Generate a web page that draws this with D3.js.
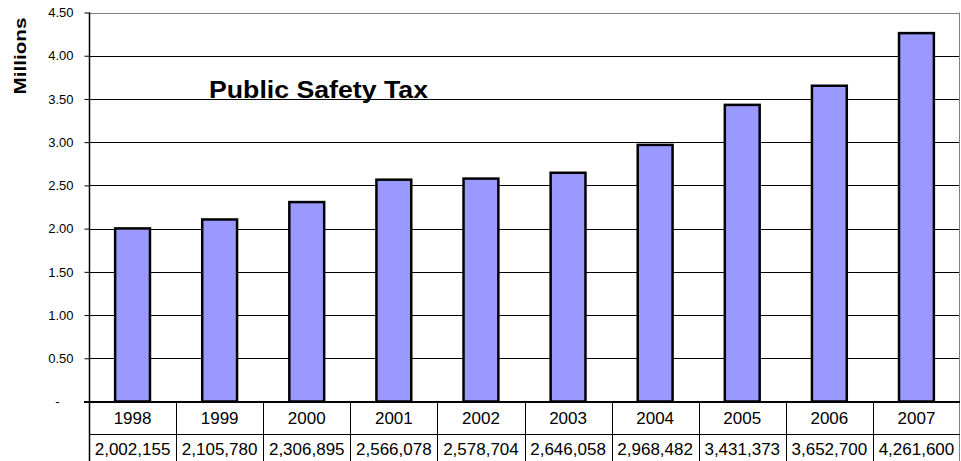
<!DOCTYPE html>
<html>
<head>
<meta charset="utf-8">
<script src="https://cdn.jsdelivr.net/npm/d3@7"></script>
<style>
  html, body { margin: 0; padding: 0; background: #fff; }
  svg { display: block; font-family: Arial, "Liberation Sans", sans-serif; }
</style>
</head>
<body>
<svg id="chart" width="961" height="461"></svg>
<script>
// Public Safety Tax collections by year
const years = ["1998", "1999", "2000", "2001", "2002", "2003", "2004", "2005", "2006", "2007"];
const amounts = [2002155, 2105780, 2306895, 2566078, 2578704, 2646058, 2968482, 3431373, 3652700, 4261600];
const tickValues = [0, 0.5, 1.0, 1.5, 2.0, 2.5, 3.0, 3.5, 4.0, 4.5];
const tickLabels = ["-", "0.50", "1.00", "1.50", "2.00", "2.50", "3.00", "3.50", "4.00", "4.50"];

const svg = d3.select("#chart");
const plotLeft = 89, plotRight = 960, plotTop = 12.5, plotBottom = 401.5;
const rowDivider = 434, tableBottom = 470;

const x = d3.scaleBand().domain(years).range([plotLeft, plotRight]).padding(0);
const y = d3.scaleLinear().domain([0, 4.5]).range([plotBottom, plotTop]);

// horizontal gridlines
svg.append("g")
  .selectAll("line")
  .data(tickValues.filter(v => v > 0 && v < 4.5))
  .join("line")
  .attr("x1", plotLeft).attr("x2", plotRight)
  .attr("y1", d => Math.round(y(d)) + 0.5).attr("y2", d => Math.round(y(d)) + 0.5)
  .attr("stroke", "#000").attr("stroke-width", 1);

// plot frame: grey top and right edges
svg.append("line")
  .attr("x1", plotLeft).attr("x2", plotRight)
  .attr("y1", Math.round(y(4.5)) + 0.5).attr("y2", Math.round(y(4.5)) + 0.5)
  .attr("stroke", "#808080").attr("stroke-width", 1);
svg.append("line")
  .attr("x1", plotRight - 0.5).attr("x2", plotRight - 0.5)
  .attr("y1", y(4.5)).attr("y2", tableBottom)
  .attr("stroke", "#808080").attr("stroke-width", 1);

// y axis with custom labels
const yAxis = d3.axisLeft(y)
  .tickValues(tickValues)
  .tickSize(5)
  .tickPadding(11)
  .tickFormat((d, i) => tickLabels[i]);
const gy = svg.append("g")
  .attr("transform", `translate(${plotLeft + 0.5},0)`)
  .call(yAxis);
gy.select(".domain").remove();
gy.selectAll(".tick line").attr("stroke", "#000");
gy.selectAll(".tick text")
  .attr("fill", "#000")
  .attr("dx", d => d === 0 ? -14 : 0)
  .style("font-size", "13px")
  .style("font-family", "Arial, 'Liberation Sans', sans-serif");

// bars
const barW = x.bandwidth() * 0.4;
svg.append("g")
  .selectAll("rect")
  .data(amounts)
  .join("rect")
  .attr("x", (d, i) => x(years[i]) + (x.bandwidth() - barW) / 2)
  .attr("y", d => y(d / 1e6))
  .attr("width", barW)
  .attr("height", d => plotBottom - y(d / 1e6))
  .attr("fill", "#9999FF")
  .attr("stroke", "#000")
  .attr("stroke-width", 2.5);

// left axis line, running down through the data table
svg.append("line")
  .attr("x1", plotLeft + 0.5).attr("x2", plotLeft + 0.5)
  .attr("y1", plotTop).attr("y2", tableBottom)
  .attr("stroke", "#000").attr("stroke-width", 1.5);

// base line
svg.append("line")
  .attr("x1", plotLeft - 5).attr("x2", plotRight)
  .attr("y1", plotBottom + 0.5).attr("y2", plotBottom + 0.5)
  .attr("stroke", "#000").attr("stroke-width", 2);

// data table below the plot
const table = svg.append("g");
table.append("line")
  .attr("x1", plotLeft).attr("x2", plotRight)
  .attr("y1", rowDivider + 0.5).attr("y2", rowDivider + 0.5)
  .attr("stroke", "#000").attr("stroke-width", 1);
table.selectAll("line.col")
  .data(years.slice(1))
  .join("line")
  .attr("class", "col")
  .attr("x1", d => Math.round(x(d)) + 0.5).attr("x2", d => Math.round(x(d)) + 0.5)
  .attr("y1", plotBottom).attr("y2", tableBottom)
  .attr("stroke", "#000").attr("stroke-width", 1);

table.selectAll("text.year")
  .data(years)
  .join("text")
  .attr("class", "year")
  .attr("x", d => x(d) + x.bandwidth() / 2)
  .attr("y", 424)
  .attr("text-anchor", "middle")
  .style("font-size", "17px")
  .text(d => d);

const fmt = d3.format(",");
table.selectAll("text.amount")
  .data(amounts)
  .join("text")
  .attr("class", "amount")
  .attr("x", (d, i) => x(years[i]) + x.bandwidth() / 2)
  .attr("y", 455)
  .attr("text-anchor", "middle")
  .style("font-size", "17px")
  .text(d => fmt(d));

// chart title
svg.append("text")
  .attr("x", 209)
  .attr("y", 98)
  .attr("textLength", 219)
  .attr("lengthAdjust", "spacingAndGlyphs")
  .style("font-size", "24px")
  .style("font-weight", "bold")
  .text("Public Safety Tax");

// y axis title
svg.append("text")
  .attr("transform", "translate(25.5,56) rotate(-90)")
  .attr("text-anchor", "middle")
  .attr("textLength", 77)
  .attr("lengthAdjust", "spacingAndGlyphs")
  .style("font-size", "17px")
  .style("font-weight", "bold")
  .text("Millions");
</script>
</body>
</html>
